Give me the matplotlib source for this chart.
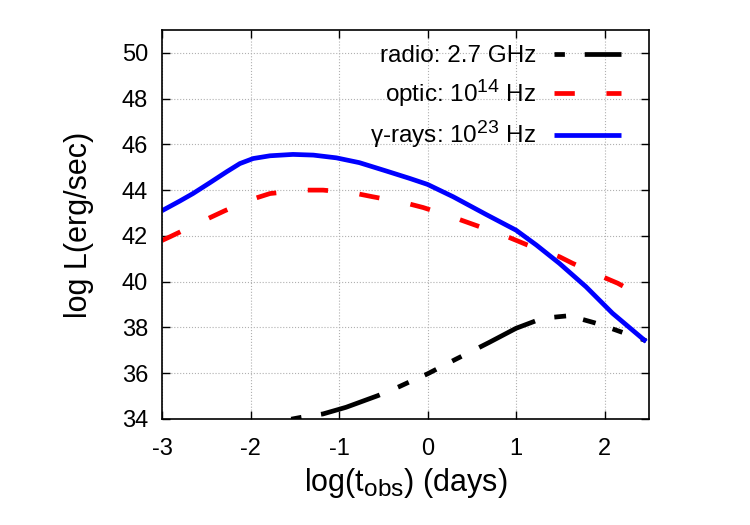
import matplotlib
matplotlib.use('agg')
import matplotlib.pyplot as plt
import matplotlib._mathtext as mathtext

plt.rcParams['font.family'] = ['Liberation Sans', 'DejaVu Sans']
plt.rcParams['mathtext.fontset'] = 'custom'
plt.rcParams['mathtext.rm'] = 'Liberation Sans'
plt.rcParams['mathtext.it'] = 'Liberation Sans'
plt.rcParams['axes.unicode_minus'] = False
mathtext.SHRINK_FACTOR = 0.8   # bigger super/subscripts, closer to gnuplot look

####  Data  ###################################################################
# gamma-rays 10^23 Hz
gamma_x = [-3.0, -2.80, -2.65, -2.46, -2.27, -2.12, -1.97, -1.78, -1.52, -1.29,
           -1.03, -0.77, -0.47, -0.20, 0.0, 0.29, 0.66, 1.0, 1.23, 1.49,
           1.79, 2.09, 2.47]
gamma_y = [43.1, 43.52, 43.85, 44.32, 44.8, 45.16, 45.38, 45.5, 45.56, 45.53,
           45.41, 45.2, 44.84, 44.51, 44.25, 43.71, 42.94, 42.25, 41.6, 40.8,
           39.78, 38.62, 37.38]

# optic 10^14 Hz
optic_x = [-3.0, -2.91, -2.50, -2.29, -1.99, -1.78, -1.41, -1.18, -0.84, -0.62,
           -0.26, -0.05, 0.30, 0.59, 0.93, 1.13, 1.49, 1.64, 1.98, 2.15, 2.47]
optic_y = [41.8, 41.96, 42.72, 43.1, 43.59, 43.85, 44.0, 44.0, 43.88, 43.71,
           43.45, 43.24, 42.8, 42.4, 41.92, 41.6, 41.09, 40.8, 40.21, 39.93, 39.25]

# radio 2.7 GHz
radio_x = [-1.54, -1.43, -1.18, -0.92, -0.56, -0.32, -0.22, 0.0, 0.10, 0.32,
           0.47, 0.70, 1.0, 1.30, 1.57, 1.64, 1.88, 1.98, 2.19, 2.47]
radio_y = [33.99, 34.07, 34.22, 34.51, 35.02, 35.41, 35.59, 35.97, 36.17, 36.61,
           36.9, 37.35, 37.96, 38.4, 38.5, 38.47, 38.21, 38.09, 37.8, 37.42]

####  Plot  ###################################################################
fig = plt.figure(figsize=(7.5, 5.25), dpi=100)
ax = fig.add_axes([0.216, 0.202, 0.649, 0.741])

lw = 3.4
ax.plot(radio_x, radio_y, color='black', lw=lw, dash_capstyle='butt',
        dashes=(2.2, 4.2, 13.1, 4.2, 2.5, 3.7, 2.75, 3.8),
        label='radio: 2.7 GHz')
ax.plot(optic_x, optic_y, color='#ff0000', lw=lw, dash_capstyle='butt',
        dashes=(4.3, 6.7), label='optic: $10^{14}$ Hz')
ax.plot(gamma_x, gamma_y, color='#0000ff', lw=lw, solid_capstyle='butt',
        solid_joinstyle='round', label='γ-rays: $10^{23}$ Hz')

ax.set_xlim(-3, 2.5)
ax.set_ylim(34, 51)
ax.set_xticks([-3, -2, -1, 0, 1, 2])
ax.set_yticks(range(34, 51, 2))
ax.grid(True, color='#b0b0b0', linestyle=':', linewidth=0.8)
ax.tick_params(direction='in', top=True, right=True, length=6, width=1,
               labelsize=17)
ax.tick_params(axis='y', pad=10)
ax.tick_params(axis='x', pad=14)
for s in ax.spines.values():
    s.set_linewidth(1.2)

ax.set_xlabel('log(t$_{\\rm obs}$) (days)', fontsize=22, labelpad=4)
ax.set_ylabel('log L(erg/sec)', fontsize=22, labelpad=20)

ax.legend(loc='upper right', bbox_to_anchor=(0.972, 0.998), frameon=False,
          markerfirst=False, fontsize=17.5, handlelength=2.75,
          handletextpad=0.72, labelspacing=0.4, borderaxespad=0.2)

fig.savefig('out.png', dpi=100)
